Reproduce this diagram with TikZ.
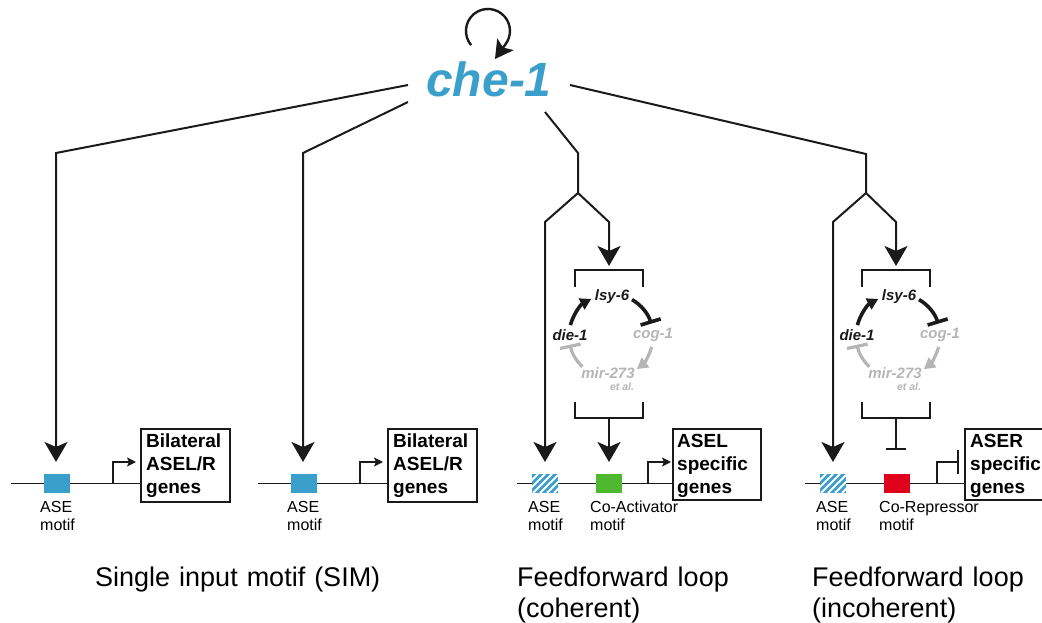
\documentclass[tikz,border=0pt]{standalone}
\usepackage{fontspec}
\setmainfont{Liberation Sans}
\usetikzlibrary{arrows.meta}
\definecolor{cheblue}{HTML}{3B9FCB}
\definecolor{actgreen}{HTML}{4DB830}
\definecolor{repred}{HTML}{E0001B}
\definecolor{ink}{HTML}{1A1A1A}
\definecolor{faded}{HTML}{B5B5B5}
\newcommand{\fsz}[2]{\fontsize{#1}{#2}\selectfont}
% one loop of lsy-6 / cog-1 / mir-273 / die-1 inside its brackets
\newcommand{\regloop}{%
  \draw[bracket] (575,287) -- (575,270) -- (643,270) -- (643,287);
  \draw[bracket] (575,402) -- (575,418) -- (643,418) -- (643,402);
  \node[gname,text=ink] (lsy) at (612,297) {lsy-6};
  \node[gname,text=ink] (die) at (570,335) {die-1};
  \node[gname,text=faded] (cog) at (653,335) {cog-1};
  \node[gname,text=faded] (mir) at (608,373) {mir-273};
  \node[gname,text=faded,font=\fsz{10.5}{10.5}\bfseries\itshape] (etal) at (622,387) {et al.};
  \draw[ink,line width=3.6pt,-{Triangle[length=11pt,width=12pt]}]
    (570.4,325.1) arc[start angle=195,end angle=242,radius=42];
  \draw[ink,line width=3.6pt,-{Bar[width=21pt]}]
    (632,299.6) arc[start angle=300,end angle=343,radius=42];
  \draw[faded,line width=3.2pt,-{Triangle[length=11pt,width=12pt]}]
    (651.6,346.9) arc[start angle=15,end angle=52,radius=42];
  \draw[faded,line width=3.2pt,-{Bar[width=21pt]}]
    (582.4,366.7) arc[start angle=133,end angle=168,radius=42];
}
\begin{document}
\begin{tikzpicture}[x=1pt,y=1pt,yscale=-1,
  conn/.style={draw=ink,line width=2pt,line join=miter},
  bigtip/.style={-{Stealth[length=20pt,width=23pt,inset=5pt]}},
  bracket/.style={draw=ink,line width=2pt},
  dnaline/.style={draw=ink,line width=1.6pt},
  promoter/.style={draw=ink,line width=1.4pt,-{Stealth[length=9pt,width=9pt,inset=2pt]}},
  blocker/.style={draw=ink,line width=1.4pt,-{Bar[width=24pt,line width=1.6pt]}},
  motifbox/.style={minimum width=26pt,minimum height=19pt,inner sep=0pt,outer sep=0pt},
  hatched/.style={motifbox,fill=cheblue,path picture={
      \foreach \k in {-20,-13,...,30}
        \draw[white,line width=1.9pt]
          ([xshift=\k]path picture bounding box.south west) --
          ([xshift=\k+19]path picture bounding box.north west);}},
  genebox/.style={draw=ink,line width=1.6pt,inner sep=0pt,anchor=north west},
  genetext/.style={anchor=base west,inner sep=0pt,text width=95pt,align=left,font=\fsz{19}{23}\bfseries},
  motiflabel/.style={anchor=base west,inner sep=0pt,text width=120pt,align=left,font=\fsz{16}{18}},
  caption/.style={anchor=base west,inner sep=0pt,text width=300pt,align=left,font=\fsz{27}{31}},
  gname/.style={inner sep=0pt,font=\fsz{15}{15}\bfseries\itshape},
]
\useasboundingbox (0,0) rectangle (1042,623);
\clip (0,0) rectangle (1042,623);

% master regulator and its autoregulation
\node[anchor=base,inner sep=0pt,text=cheblue,font=\fsz{48}{48}\bfseries\itshape] (che) at (489,97) {che-1};
\coordinate (selfin) at (495,59);
\draw[ink,line width=2.4pt,-{Stealth[length=18pt,width=20pt,inset=4pt]}]
  (471.1,45.1) arc[start angle=140,end angle=396,radius=22] -- (selfin);

% DNA strands
\coordinate (d1s) at (11,483.5);  \coordinate (d1e) at (140,483.5);
\coordinate (d2s) at (258,483.5); \coordinate (d2e) at (387,483.5);
\coordinate (d3s) at (517,483.5); \coordinate (d3e) at (672,483.5);
\coordinate (d4s) at (805,483.5); \coordinate (d4e) at (964,483.5);
\draw[dnaline] (d1s) -- (d1e);
\draw[dnaline] (d2s) -- (d2e);
\draw[dnaline] (d3s) -- (d3e);
\draw[dnaline] (d4s) -- (d4e);

% cis-regulatory motifs
\node[motifbox,fill=cheblue] (ase1) at (57,483.5) {};
\node[motifbox,fill=cheblue] (ase2) at (304,483.5) {};
\node[hatched] (ase3) at (545,483.5) {};
\node[hatched] (ase4) at (833,483.5) {};
\node[motifbox,fill=actgreen] (coact) at (609,483.5) {};
\node[motifbox,fill=repred] (corep) at (897,483.5) {};

\node[motiflabel] at (40,512) {ASE\\motif};
\node[motiflabel] at (287,512) {ASE\\motif};
\node[motiflabel] at (528,512) {ASE\\motif};
\node[motiflabel] at (816,512) {ASE\\motif};
\node[motiflabel] at (590,512) {Co-Activator\\motif};
\node[motiflabel] at (879,512) {Co-Repressor\\motif};

% target gene boxes
\node[genebox,minimum width=89pt,minimum height=73pt] (g1) at (140,428) {};
\node[genebox,minimum width=89pt,minimum height=73pt] (g2) at (387,428) {};
\node[genebox,minimum width=88pt,minimum height=71pt] (g3) at (672,428) {};
\node[genebox,minimum width=110pt,minimum height=71pt] (g4) at (964,428) {};
\node[genetext] at (146,447) {Bilateral\\ASEL/R\\genes};
\node[genetext] at (393,447) {Bilateral\\ASEL/R\\genes};
\node[genetext] at (677,447) {ASEL\\specific\\genes};
\node[genetext] at (970,447) {ASER\\specific\\genes};

% promoters
\coordinate (p1) at (113,483.5); \coordinate (q1) at (140,462);
\coordinate (p2) at (360,483.5); \coordinate (q2) at (387,462);
\coordinate (p3) at (648,483.5); \coordinate (q3) at (672,462);
\coordinate (p4) at (937,483.5); \coordinate (q4) at (959,462);
\draw[promoter,shorten >=4pt] (p1) |- (q1);
\draw[promoter,shorten >=4pt] (p2) |- (q2);
\draw[promoter,shorten >=1pt] (p3) |- (q3);
\draw[blocker] (p4) |- (q4);

% single input motifs
\coordinate (a1) at (408,85);  \coordinate (k1) at (56,153);
\coordinate (a2) at (408,102); \coordinate (k2) at (303,153);
\draw[conn,bigtip,shorten >=12pt] (a1) -- (k1) -- (k1 |- ase1.north);
\draw[conn,bigtip,shorten >=12pt] (a2) -- (k2) -- (k2 |- ase2.north);

% coherent feedforward loop
\coordinate (a3) at (545,112); \coordinate (k3) at (578,153);
\coordinate (f3) at (578,193); \coordinate (l3) at (545,222);
\coordinate (r3) at (609,222); \coordinate (t3) at (609,270);
\coordinate (s3) at (609,418);
\draw[conn] (a3) -- (k3) -- (f3);
\draw[conn,bigtip,shorten >=12pt] (f3) -- (l3) -- (l3 |- ase3.north);
\draw[conn,bigtip,shorten >=4pt] (f3) -- (r3) -- (t3);
\draw[conn,bigtip,shorten >=12pt] (s3) -- (coact.north);
\regloop

% incoherent feedforward loop
\coordinate (a4) at (570,85);  \coordinate (k4) at (866,154);
\coordinate (f4) at (866,193); \coordinate (l4) at (833,222);
\coordinate (r4) at (896,222); \coordinate (t4) at (896,270);
\coordinate (s4) at (896,418); \coordinate (e4) at (896,450);
\draw[conn] (a4) -- (k4) -- (f4);
\draw[conn,bigtip,shorten >=12pt] (f4) -- (l4) -- (l4 |- ase4.north);
\draw[conn,bigtip,shorten >=4pt] (f4) -- (r4) -- (t4);
\draw[conn,-{Bar[width=20pt]}] (s4) -- (e4);
\begin{scope}[xshift=287pt]
  \regloop
\end{scope}

% captions
\node[caption] at (95,586) {Single input motif (SIM)};
\node[caption] at (517,586) {Feedforward loop\\(coherent)};
\node[caption] at (812,586) {Feedforward loop\\(incoherent)};
\end{tikzpicture}
\end{document}
